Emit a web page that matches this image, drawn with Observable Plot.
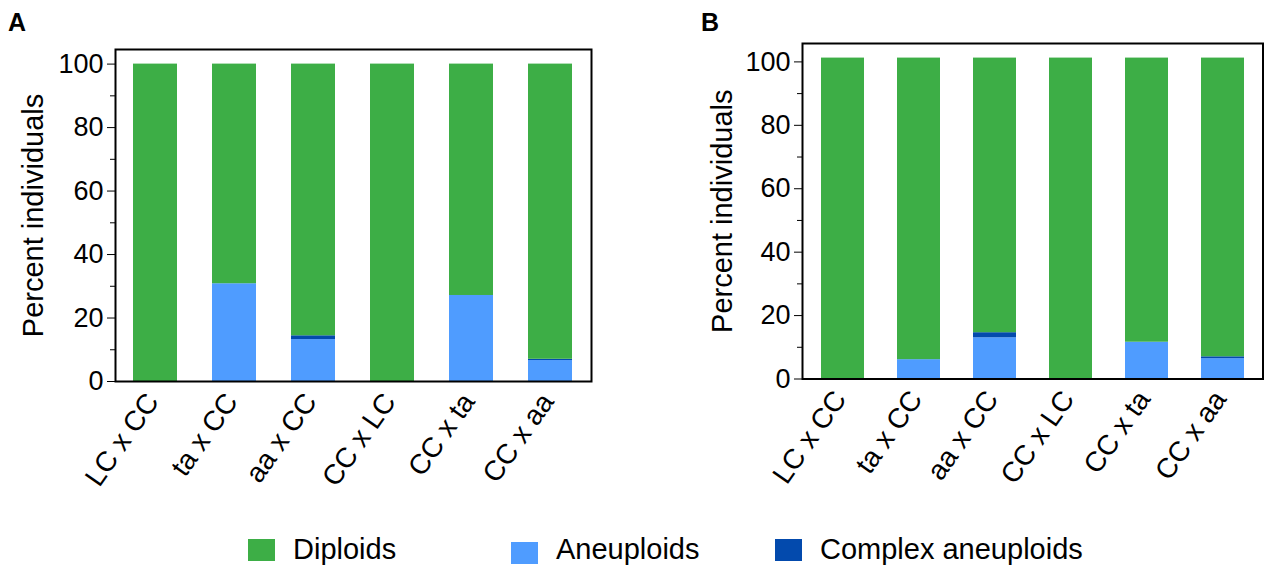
<!DOCTYPE html>
<html><head><meta charset="utf-8">
<script src="https://cdn.jsdelivr.net/npm/d3@7"></script>
<script src="https://cdn.jsdelivr.net/npm/@observablehq/plot@0.6"></script>
<style>
body{margin:0;background:#fff;}
#wrap{position:relative;width:1264px;height:566px;overflow:hidden;font-family:"Liberation Sans",Arial,sans-serif;color:#000;}
.panel{position:absolute;top:0;}
.letter{position:absolute;font-weight:bold;font-size:25px;line-height:1;}
.legend{position:absolute;top:0;left:0;}
</style></head><body><div id="wrap"></div>
<script>
// ---- data ----
const crosses = ["LC x CC", "ta x CC", "aa x CC", "CC x LC", "CC x ta", "CC x aa"];
const categories = ["Aneuploids", "Complex aneuploids", "Diploids"]; // stacking order, bottom to top
const legendOrder = ["Diploids", "Aneuploids", "Complex aneuploids"];
const colors = ["#4f9cff", "#034aad", "#3dae46"];
const majorTicks = [0, 20, 40, 60, 80, 100];
const minorTicks = [10, 30, 50, 70, 90];
const yLabel = "Percent individuals";

// Panel A
const aneuA    = [0, 30.8, 13.2, 0, 27.1, 6.6];
const complexA = [0, 0, 1.2, 0, 0, 0.4];
const diploidA = [100, 69.2, 85.6, 100, 72.9, 93.0];
// Panel B
const aneuB    = [0, 6.1, 13.0, 0, 11.6, 6.4];
const complexB = [0, 0, 1.6, 0, 0, 0.6];
const diploidB = [101.2, 95.1, 86.6, 101.2, 89.6, 94.2];

function tidy(aneu, complex, dip) {
  return crosses.flatMap((c, i) => [
    {cross: c, cat: "Aneuploids", value: aneu[i]},
    {cross: c, cat: "Complex aneuploids", value: complex[i]},
    {cross: c, cat: "Diploids", value: dip[i]}
  ]);
}

function panel(data, o) {
  const chart = Plot.plot({
    width: o.width, height: o.height,
    marginLeft: o.marginLeft, marginRight: o.marginRight,
    marginTop: o.marginTop, marginBottom: o.marginBottom,
    style: {fontFamily: "Liberation Sans, Arial, sans-serif", fontSize: "27px", color: "#000", background: "transparent", overflow: "visible"},
    x: {domain: crosses, paddingInner: 0.44, paddingOuter: 0.22, label: null},
    y: {domain: [0, o.yMax], label: null},
    color: {domain: categories, range: colors},
    marks: [
      Plot.barY(data, {x: "cross", y: "value", fill: "cat", order: categories}),
      Plot.axisY({ticks: majorTicks, tickSize: 8, tickPadding: 4, label: null}),
      Plot.axisY({ticks: minorTicks, tickSize: 5, text: null, label: null}),
      Plot.axisX({tickSize: 0, tickRotate: -55, tickPadding: 15, dx: -3, fontSize: 28, label: null}),
      Plot.frame({stroke: "#000", strokeWidth: 2}),
      Plot.text([yLabel], {frameAnchor: "left", dx: -o.labelDx, rotate: -90, fontSize: 29, lineAnchor: "top", textAnchor: "middle", fill: "#000"})
    ]
  });
  const div = document.createElement("div");
  div.className = "panel";
  div.style.left = o.left + "px";
  div.appendChild(chart);
  return div;
}

const wrap = document.getElementById("wrap");
wrap.appendChild(panel(tidy(aneuA, complexA, diploidA), {
  left: 0, width: 600, height: 510, marginLeft: 115, marginRight: 9, marginTop: 49, marginBottom: 129, yMax: 104.6, labelDx: 93
}));
wrap.appendChild(panel(tidy(aneuB, complexB, diploidB), {
  left: 690, width: 574, height: 510, marginLeft: 112, marginRight: 1.5, marginTop: 43, marginBottom: 131.5, yMax: 105.8, labelDx: 91
}));

// panel letters
[["A", 8], ["B", 701]].forEach(([t, x]) => {
  const d = document.createElement("div");
  d.className = "letter";
  d.textContent = t;
  d.style.left = x + "px";
  d.style.top = "10px";
  wrap.appendChild(d);
});

// legend
const legendX = [248, 511, 775];
const legendDy = [0, 3, 0];
const svg = d3.select(wrap).append("svg").attr("class", "legend").attr("width", 1264).attr("height", 566);
legendOrder.forEach((name, i) => {
  const col = colors[categories.indexOf(name)];
  svg.append("rect").attr("x", legendX[i]).attr("y", 539 + legendDy[i]).attr("width", 27).attr("height", 22).attr("fill", col);
  svg.append("text").attr("x", legendX[i] + 45).attr("y", 559).attr("font-size", 29)
    .attr("font-family", "Liberation Sans, Arial, sans-serif").attr("fill", "#000").text(name);
});
</script>
</body></html>
